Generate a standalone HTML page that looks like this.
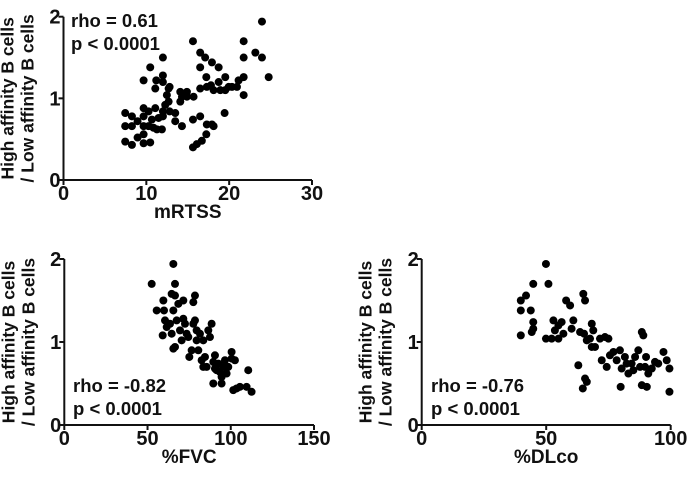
<!DOCTYPE html>
<html><head><meta charset="utf-8"><style>
html,body{margin:0;padding:0;background:#fff}
svg{display:block}
text{font-family:"Liberation Sans",sans-serif;font-weight:bold;fill:#111}
</style></head><body>
<svg id="c" width="689" height="490"></svg>
<script>
const x1=[7.45,7.45,7.45,8.26,8.26,8.26,8.94,8.94,9.67,9.67,9.67,9.67,9.67,9.67,10.27,10.27,10.47,10.47,10.67,10.87,11.08,11.08,11.2,11.28,11.48,11.88,12.0,12.0,12.0,12.0,12.0,12.28,12.48,12.69,12.69,12.81,12.81,13.49,13.49,14.1,14.1,14.3,14.3,14.9,14.9,15.63,15.63,15.63,15.7,16.1,16.5,16.5,16.5,16.5,16.7,17.1,17.24,17.24,17.3,17.3,17.8,17.92,17.92,18.12,18.12,18.73,18.73,18.93,19.45,19.53,19.53,19.94,20.34,20.94,21.14,21.75,21.75,21.75,21.75,23.16,23.96,23.96,24.77];
const y1=[0.82,0.66,0.47,0.43,0.66,0.78,0.72,0.52,1.22,0.88,0.78,0.66,0.56,0.45,0.66,0.84,0.46,1.38,0.74,0.64,1.12,0.88,1.22,0.62,0.76,0.62,1.5,1.28,1.2,0.84,0.78,0.92,1.04,1.12,0.96,0.84,1.14,0.82,0.72,1.08,0.96,0.66,1.02,1.08,1.02,1.7,0.74,0.4,1.02,0.44,1.56,1.38,1.12,0.78,0.48,1.5,1.26,0.56,1.14,0.68,1.16,0.68,1.44,0.66,1.1,1.38,1.2,1.1,0.82,1.26,1.1,1.14,1.14,1.14,1.22,1.7,1.5,1.26,1.04,1.56,1.94,1.5,1.26];
const x2=[52.5,55.5,59.5,59.9,60.5,59.1,61.5,63.5,64.5,65.5,66.5,66.5,65.5,65.5,66.5,67.5,64.5,68.5,69.5,70.5,71.5,71.5,72.5,73.5,74.5,75.1,76.5,77.5,77.5,78.5,78.5,79.5,79.5,80.5,81.5,82.5,83.5,83.5,84.5,85.5,86.5,87.5,88.5,89.5,89.5,90.5,90.5,91.5,92.5,93.5,94.5,94.5,95.5,96.5,97.5,98.5,100.5,100.5,101.5,102.5,103.5,105.5,109.5,110.5,112.5];
const y2=[1.7,1.38,1.5,1.38,1.26,1.08,1.18,1.22,1.1,1.94,1.7,1.56,1.38,0.92,0.94,1.26,1.58,1.46,1.14,1.02,1.5,1.28,1.22,1.1,1.06,0.82,0.9,1.22,1.48,1.56,1.26,1.14,1.02,0.9,1.1,0.78,1.02,0.7,0.82,0.7,1.14,1.06,1.22,0.76,0.5,0.68,0.84,0.66,0.74,0.64,0.58,0.5,0.7,0.78,0.62,0.7,0.88,0.8,0.42,0.78,0.44,0.46,0.46,0.66,0.4];
const x3=[39.8,39.8,39.8,41.9,43.8,44.8,44.8,44.8,44.2,49.9,50.9,49.9,52.2,52.9,53.5,54.9,54.9,56.2,56.9,58.0,59.6,60.2,60.9,62.9,63.6,64.7,64.9,65.2,65.6,65.6,66.3,66.3,67.6,68.3,68.3,68.9,69.6,71.6,72.3,73.6,74.3,75.0,75.6,77.0,78.3,79.6,79.9,80.3,81.6,82.3,83.0,84.3,85.0,85.7,87.0,87.7,88.4,89.0,88.4,89.7,90.1,90.4,91.0,92.4,93.7,95.0,97.1,98.4,99.5,99.5];
const y3=[1.5,1.38,1.08,1.56,1.38,1.7,1.24,1.16,1.12,1.94,1.7,1.04,1.04,1.26,1.14,1.2,1.04,1.24,1.1,1.5,1.44,1.16,1.26,0.72,1.12,0.44,1.58,1.1,1.5,0.56,0.52,1.02,1.04,1.22,0.94,1.14,0.94,1.04,0.78,1.06,0.7,1.04,0.84,0.88,0.78,0.9,0.46,0.68,0.82,0.74,0.62,0.74,0.66,0.82,0.9,0.7,1.12,1.08,0.48,0.7,0.82,0.46,0.62,0.68,0.76,0.74,0.88,0.78,0.68,0.4];
const ticks1=[0,10,20,30], ticks2=[0,50,100,150], ticks3=[0,50,100], yTicks=[0,1,2];
const NS="http://www.w3.org/2000/svg", svg=document.getElementById('c');
function el(t,a,p){const e=document.createElementNS(NS,t);for(const k in a)e.setAttribute(k,a[k]);(p||svg).appendChild(e);return e;}
function panel(o){
  const g=el('g',{});
  
  
  const sx=v=>o.x0+(v-o.xmin)/(o.xmax-o.xmin)*(o.x1-o.x0);
  const sy=v=>o.y0-(v/2)*(o.y0-o.y1);
  const ax=el('path',{d:`M${o.x0},${o.y1} V${o.y0} H${o.x1}`,fill:'none',stroke:'#111','stroke-width':2},g);
  
  
  yTicks.forEach(v=>{
    el('line',{x1:o.x0-5,x2:o.x0,y1:sy(v),y2:sy(v),stroke:'#111','stroke-width':2},g);
    const t=el('text',{x:o.x0-3,y:sy(v)+7,'text-anchor':'end','font-size':20},g);t.textContent=v;
    
    
  });
  o.ticks.forEach(v=>{
    el('line',{x1:sx(v),x2:sx(v),y1:o.y0,y2:o.y0+5,stroke:'#111','stroke-width':2},g);
    const t=el('text',{x:sx(v),y:o.y0+20,'text-anchor':'middle','font-size':20},g);t.textContent=v;
    
    
  });
  const xt=el('text',{x:(o.x0+o.x1)/2,y:o.y0+38,'text-anchor':'middle','font-size':19},g);xt.textContent=o.xtitle;
  
  
  const cy=(o.y0+o.y1)/2;
  [['High affinity B cells',o.x0-50],['/ Low affinity B cells',o.x0-30]].forEach(([s,xx])=>{
    const t=el('text',{x:xx,y:cy,'text-anchor':'middle','font-size':17.5,transform:`rotate(-90 ${xx} ${cy})`},g);t.textContent=s;
    
    
  });
  o.xs.forEach((v,i)=>{
    const c=el('circle',{cx:sx(v),cy:sy(o.ys[i]),r:4,fill:'#000'},g);
    
    
  });
  o.ann.forEach((s,i)=>{
    const t=el('text',{x:o.ax,y:o.ay+i*23,'font-size':18.5},g);t.textContent=s;
    
    
  });
}
panel({name:'mrtss-panel',x0:63.5,x1:312,xmin:0,xmax:30,y0:180,y1:16.7,ticks:ticks1,xs:x1,ys:y1,xtitle:'mRTSS',ann:['rho = 0.61','p < 0.0001'],ax:71,ay:27});
panel({name:'fvc-panel',x0:64.3,x1:314,xmin:0,xmax:150,y0:425,y1:259,ticks:ticks2,xs:x2,ys:y2,xtitle:'%FVC',ann:['rho = -0.82','p < 0.0001'],ax:73,ay:392});
panel({name:'dlco-panel',x0:421.7,x1:670.7,xmin:0,xmax:100,y0:425,y1:259,ticks:ticks3,xs:x3,ys:y3,xtitle:'%DLco',ann:['rho = -0.76','p < 0.0001'],ax:431,ay:392});
</script>
</body></html>
